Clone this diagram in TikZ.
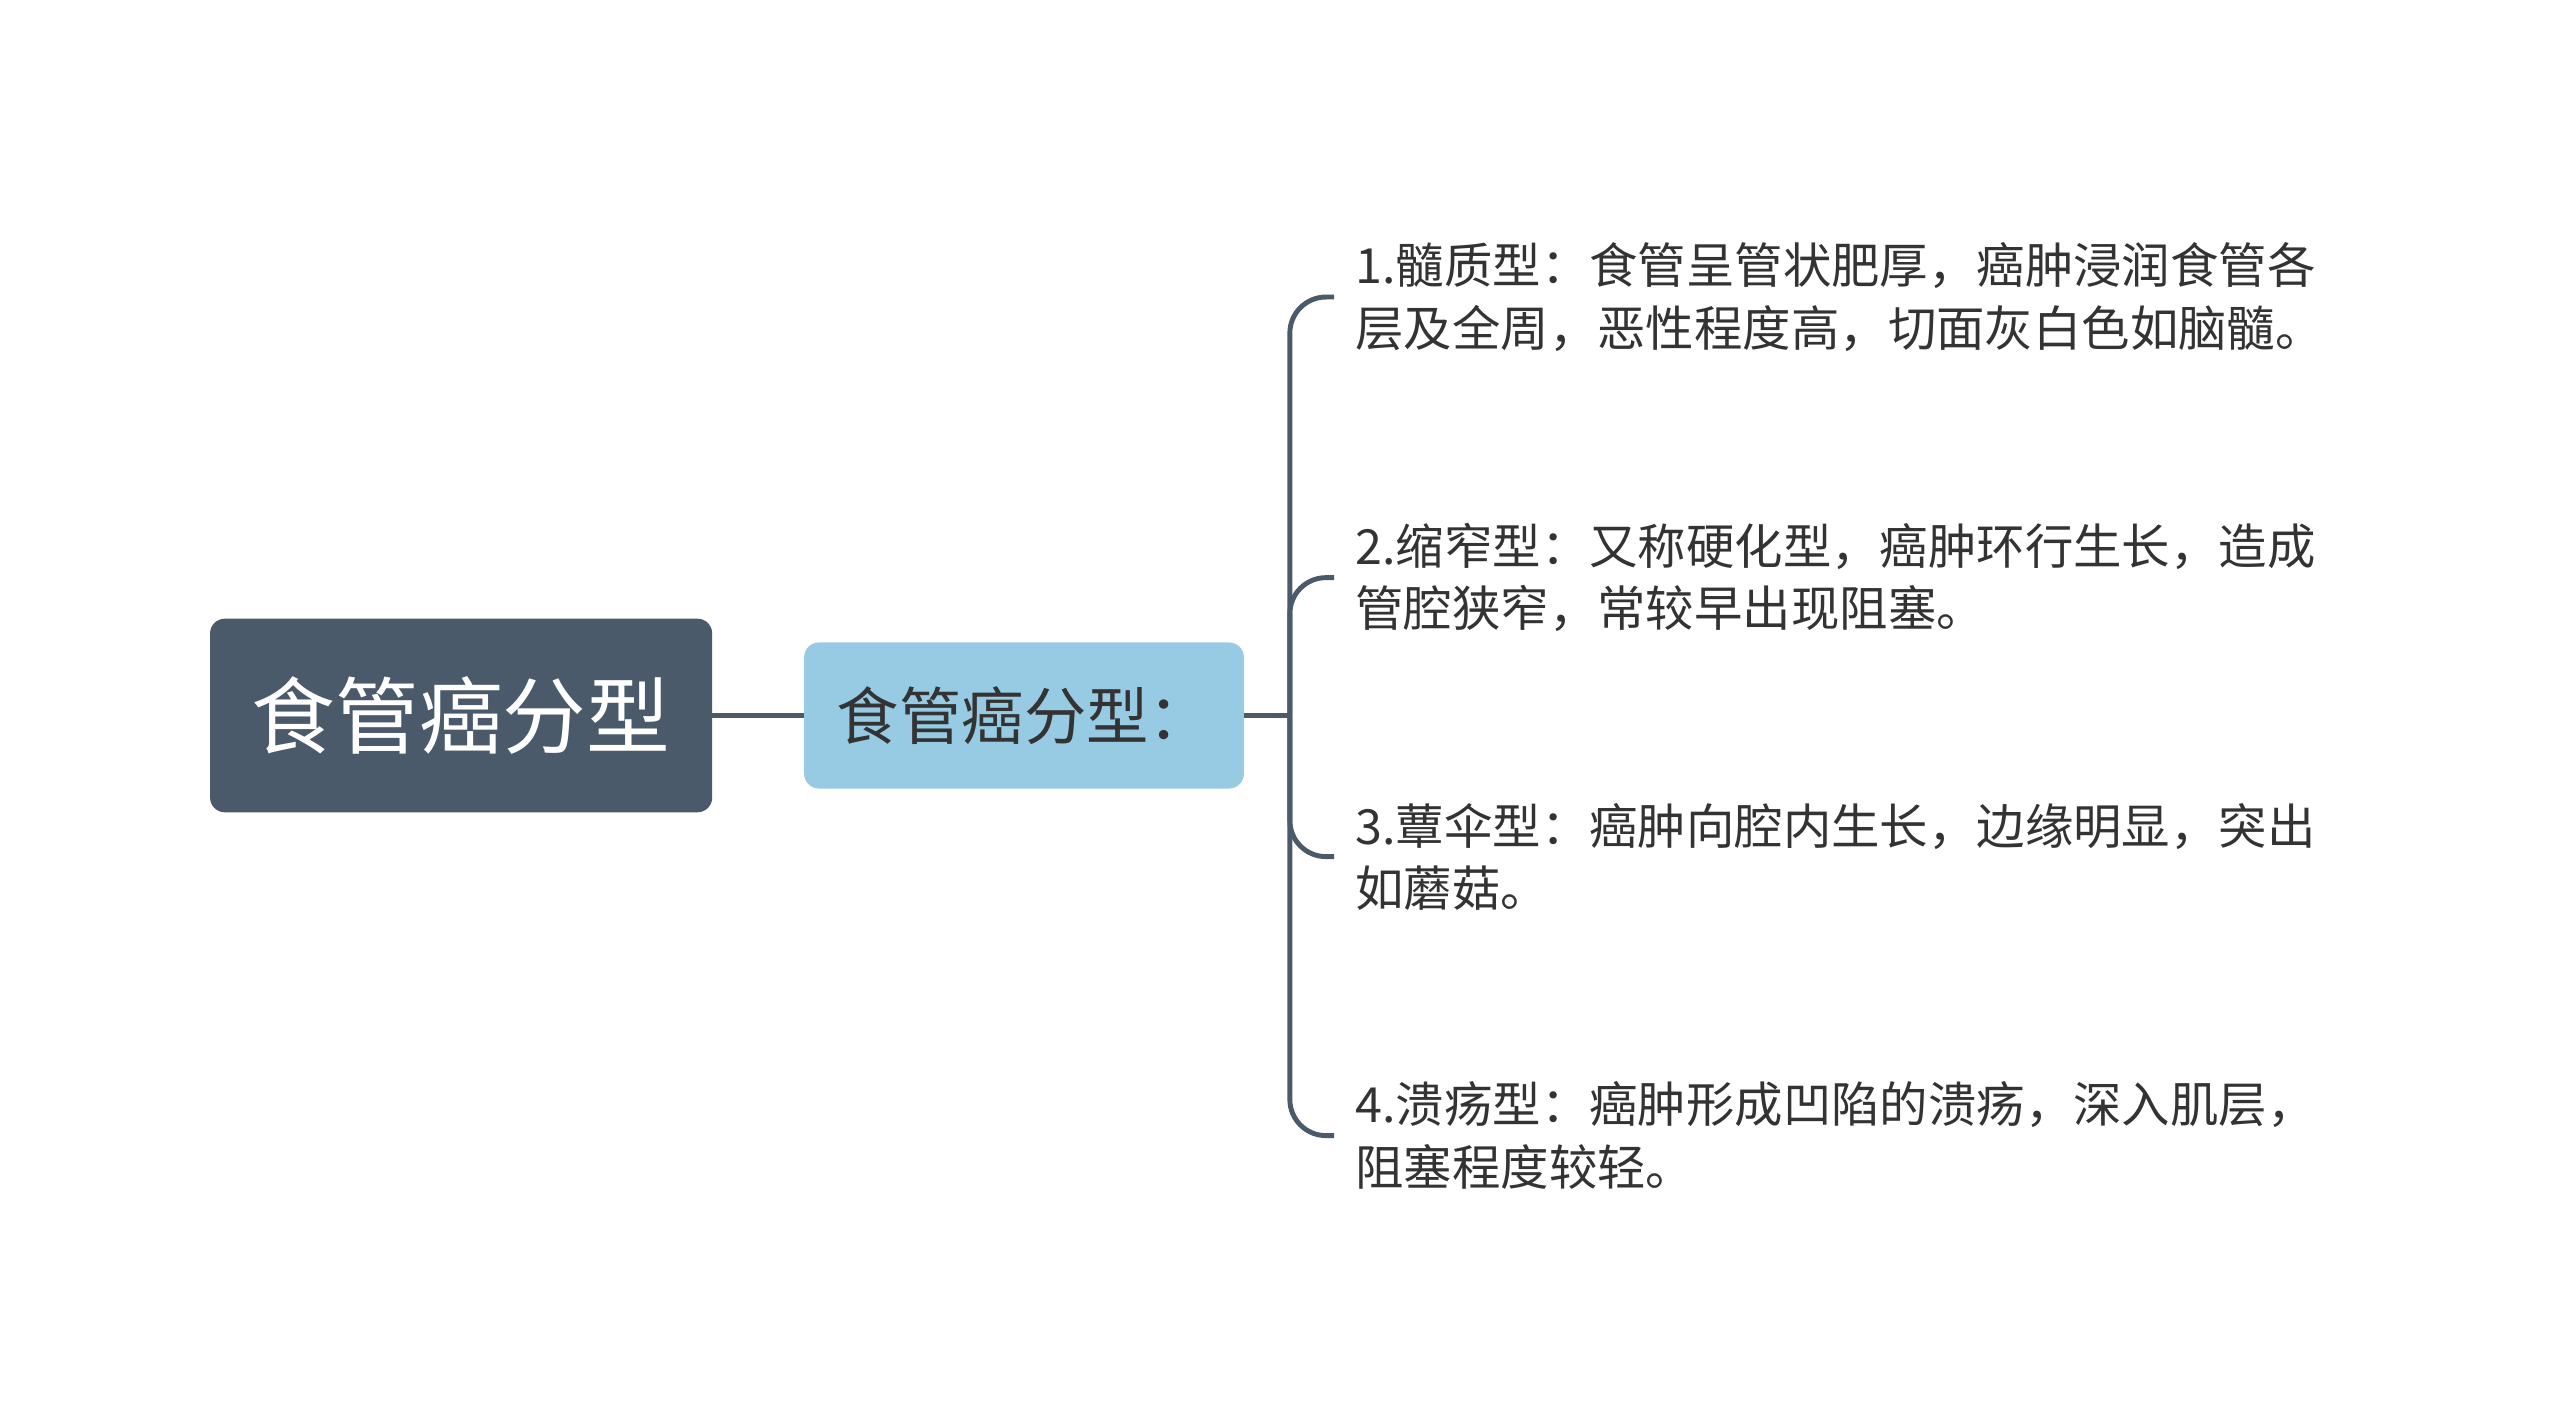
\documentclass[tikz,border=0pt]{standalone}
\usepackage{fontspec}
\setmainfont{Noto Sans CJK SC}
\usetikzlibrary{positioning}
\definecolor{rootcol}{HTML}{4A5A6A}
\definecolor{typecol}{HTML}{96CBE3}
\definecolor{textcol}{HTML}{333333}

\begin{document}
\begin{tikzpicture}[x=1pt,y=-1pt,line width=3pt,
  every node/.style={outer sep=0pt},
  rootnode/.style={rectangle,rounded corners=9pt,fill=rootcol,text=white,
    minimum width=306pt,minimum height=118pt,font=\fontsize{51}{60}\selectfont},
  typenode/.style={rectangle,rounded corners=9pt,fill=typecol,text=textcol,
    minimum width=268pt,minimum height=89pt,font=\fontsize{38}{46}\selectfont},
  leaf/.style={anchor=west,align=left,inner xsep=13pt,inner ysep=0pt,
    text=textcol,font=\fontsize{29.5}{38}\selectfont},
  branch/.style={draw=rootcol,rounded corners=22pt}]

  \useasboundingbox (0,0) rectangle (1560,869);

  \node[rootnode] (root) at (281,436) {食管癌分型};
  \node[typenode] (type) [right=56pt of root] {食管癌分型：};
  \coordinate (hub) at (786,436);

  \node[leaf] (item1) at (813,181) {1.髓质型：食管呈管状肥厚，癌肿浸润食管各\\层及全周，恶性程度高，切面灰白色如脑髓。};
  \node[leaf] (item2) at (813,352) {2.缩窄型：又称硬化型，癌肿环行生长，造成\\管腔狭窄，常较早出现阻塞。};
  \node[leaf] (item3) at (813,522) {3.蕈伞型：癌肿向腔内生长，边缘明显，突出\\如蘑菇。};
  \node[leaf] (item4) at (813,692) {4.溃疡型：癌肿形成凹陷的溃疡，深入肌层，\\阻塞程度较轻。};

  \draw[rootcol] (root) -- (type);
  \draw[rootcol] (type) -- (hub);
  \foreach \i in {1,...,4}
    \draw[branch] (hub) |- (item\i.west);

\end{tikzpicture}
\end{document}
